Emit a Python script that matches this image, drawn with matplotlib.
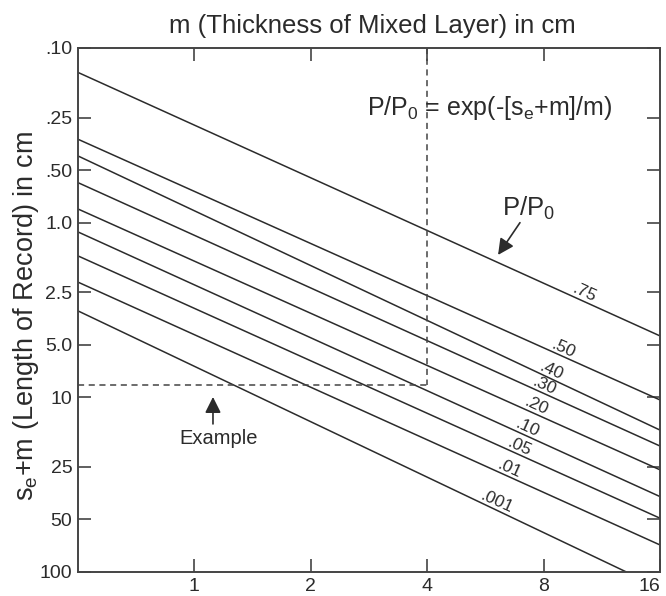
import matplotlib
matplotlib.use("Agg")
import matplotlib.pyplot as plt
import numpy as np

plt.rcParams["font.family"] = ["Liberation Sans", "DejaVu Sans"]
plt.rcParams["mathtext.fontset"] = "custom"
plt.rcParams["mathtext.rm"] = "Liberation Sans"
plt.rcParams["mathtext.it"] = "Liberation Sans:italic"

INK = "#2b2b2b"

# P/P0 curves: s_e+m read at the left (m=0.5) and right (m=16) edges
p_labels = [".75", ".50", ".40", ".30", ".20", ".10", ".05", ".01", ".001"]
m_left = [0.5] * 9
m_right = [16, 16, 16, 16, 16, 16, 16, 16, 13.1]
sm_left = [0.138, 0.333, 0.415, 0.590, 0.835, 1.13, 1.55, 2.19, 3.20]
sm_right = [4.45, 10.35, 15.4, 19.0, 26.0, 37.0, 49.2, 70.0, 100]
# where along each curve (m value) the label sits
label_m = [10.0, 8.85, 8.25, 7.9, 7.55, 7.15, 6.82, 6.42, 5.95]

x_ticks = [1, 2, 4, 8, 16]
y_ticks = [0.1, 0.25, 0.5, 1.0, 2.5, 5.0, 10, 25, 50, 100]
y_tick_labels = [".10", ".25", ".50", "1.0", "2.5", "5.0", "10", "25", "50", "100"]

example_m = 4
example_sm = 8.5

fig = plt.figure(figsize=(6.66, 5.96), dpi=100)
ax = fig.add_axes([78 / 666, 1 - 572 / 596, 582 / 666, 524 / 596])

ax.set_xscale("log", base=2)
ax.set_yscale("log")
ax.set_xlim(0.5, 16)
ax.set_ylim(100, 0.1)

for i in range(len(p_labels)):
    ax.plot([m_left[i], m_right[i]], [sm_left[i], sm_right[i]],
            color=INK, lw=1.1, solid_capstyle="butt")
    # log-log interpolation to put the label on its curve
    lx0, lx1 = np.log(m_left[i]), np.log(m_right[i])
    ly0, ly1 = np.log(sm_left[i]), np.log(sm_right[i])
    t = (np.log(label_m[i]) - lx0) / (lx1 - lx0)
    ly = np.exp(ly0 + t * (ly1 - ly0))
    ax.annotate(p_labels[i], (label_m[i], ly), xytext=(2, 5),
                textcoords="offset points", rotation=-24.4,
                rotation_mode="anchor", ha="center", va="center",
                fontsize=12.5, color=INK)

# example dashed guides
ax.plot([example_m, example_m], [0.1, example_sm], ls=(0, (4, 3)),
        color="#444444", lw=1.1)
ax.plot([0.5, example_m], [example_sm, example_sm], ls=(0, (4, 3)),
        color="#444444", lw=1.1)

ax.annotate("", xy=(1.117, 9.95), xytext=(1.117, 14.2),
            arrowprops=dict(arrowstyle="-|>", color=INK, lw=1.2,
                            mutation_scale=24, shrinkA=0, shrinkB=0))
ax.text(1.158, 17.1, "Example", ha="center", va="center",
        fontsize=14.5, color=INK)

ax.annotate("", xy=(6.10, 1.53), xytext=(6.95, 1.0),
            arrowprops=dict(arrowstyle="-|>", color=INK, lw=1.2,
                            mutation_scale=24, shrinkA=0, shrinkB=0))
ax.text(7.33, 0.824, r"P/P$_\mathregular{0}$", ha="center", va="center",
        fontsize=18.5, color=INK)

ax.text(2.795, 0.2418, r"P/P$_\mathregular{0}$ = exp(-[s$_\mathregular{e}$+m]/m)",
        ha="left", va="baseline", fontsize=18, color=INK)

ax.set_xticks(x_ticks)
ax.set_xticklabels([str(v) for v in x_ticks])
ax.xaxis.set_minor_locator(matplotlib.ticker.NullLocator())
ax.set_yticks(y_ticks)
ax.set_yticklabels(y_tick_labels)
ax.yaxis.set_minor_locator(matplotlib.ticker.NullLocator())

ax.tick_params(direction="in", length=9.5, width=1.2, color="#444444",
               labelsize=14, labelcolor=INK, top=True, right=True)
ax.tick_params(axis="x", pad=4)
ax.tick_params(axis="y", pad=4)
# last x label sits against the right edge
ax.get_xticklabels()[-1].set_horizontalalignment("right")
for s in ax.spines.values():
    s.set_color("#444444")
    s.set_linewidth(1.4)

fig.text(372 / 666, 1 - 33 / 596, "m (Thickness of Mixed Layer) in cm",
         ha="center", va="baseline", fontsize=18.5, color=INK)
fig.text(33 / 666, 1 - 316 / 596,
         r"s$_\mathregular{e}$+m (Length of Record) in cm",
         rotation=90, rotation_mode="anchor", ha="center", va="baseline",
         fontsize=19.5, color=INK)

fig.savefig("out.png", dpi=100, facecolor="white")
